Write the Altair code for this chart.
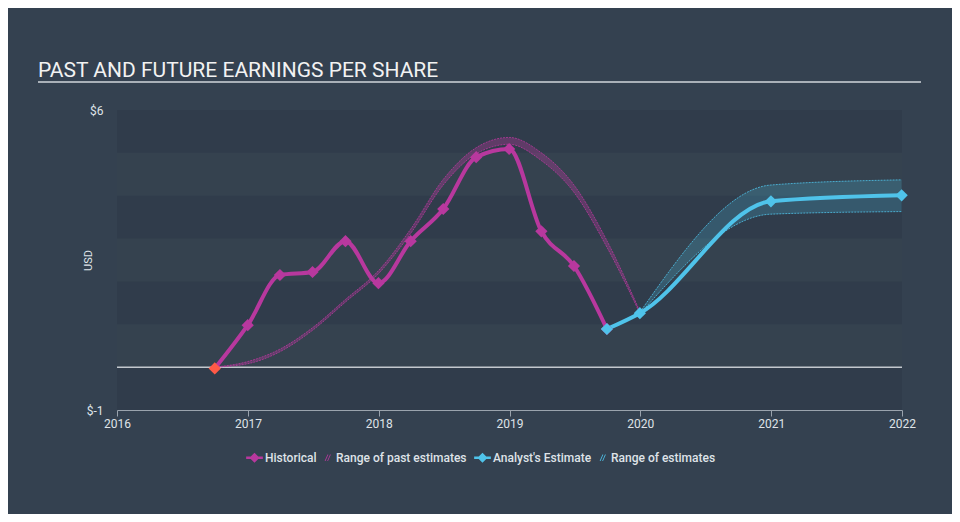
import altair as alt
import pandas as pd

# ---------------- data ----------------
hist_dates = ["2016-09-30", "2016-12-31", "2017-03-31", "2017-06-30", "2017-09-30",
              "2017-12-31", "2018-03-31", "2018-06-30", "2018-09-30", "2018-12-31",
              "2019-03-31", "2019-06-30", "2019-09-30"]
hist_eps = [-0.03, 0.98, 2.15, 2.22, 2.94, 1.96, 2.94, 3.69, 4.90, 5.09, 3.17, 2.36, 0.89]

past_dates = ["2016-09-30", "2016-12-31", "2017-03-31", "2017-06-30", "2017-09-30",
              "2017-12-31", "2018-03-31", "2018-06-30", "2018-09-30", "2018-12-31",
              "2019-03-31", "2019-06-30", "2019-09-30", "2019-12-31"]
past_low = [0.0, 0.08, 0.36, 0.86, 1.52, 2.18, 3.12, 4.25, 4.98, 5.20, 4.82, 4.08, 2.80, 1.26]
past_high = [0.0, 0.13, 0.42, 0.92, 1.58, 2.25, 3.22, 4.38, 5.12, 5.36, 5.00, 4.25, 2.95, 1.30]

est_dates = ["2019-09-30", "2019-12-31", "2020-12-31", "2021-12-31"]
est_eps = [0.89, 1.26, 3.87, 4.01]

range_dates = ["2019-12-31", "2020-12-31", "2021-12-31"]
range_low = [1.24, 3.57, 3.63]
range_high = [1.28, 4.25, 4.37]

band_low = [-1, 1, 3, 5]
band_high = [0, 2, 4, 6]

legend_past = ["Historical", "Range of past estimates"]
legend_future = ["Analyst's Estimate", "Range of estimates"]
title_text = ["PAST AND FUTURE EARNINGS PER SHARE"]

# ---------------- style ----------------
BG = "#344150"
BAND = "#303c4b"
MAG = "#b8389e"
BLUE = "#4fc3ea"
RED = "#ff5a47"
TXT = "#dfe3e8"

W, H = 785, 300

hist_df = pd.DataFrame({"date": hist_dates, "eps": hist_eps})
hist_df["first"] = [True] + [False] * (len(hist_dates) - 1)
past_df = pd.DataFrame({"date": past_dates, "low": past_low, "high": past_high})
est_df = pd.DataFrame({"date": est_dates, "eps": est_eps})
range_df = pd.DataFrame({"date": range_dates, "low": range_low, "high": range_high})
band_df = pd.DataFrame({"lo": band_low, "hi": band_high})

x_scale = alt.Scale(domain=[alt.DateTime(year=2016, month=1, date=1),
                            alt.DateTime(year=2022, month=1, date=1)])
y_scale = alt.Scale(domain=[-1, 6], nice=False, zero=False)

x_enc = alt.X("date:T", scale=x_scale, title=None,
              axis=alt.Axis(format="%Y", tickCount={"interval": "year", "step": 1},
                            labelColor=TXT, labelFontSize=12, labelFont="Roboto",
                            domainColor="#9aa3ad", tickColor="#9aa3ad", tickSize=6,
                            labelPadding=2, grid=False, labelFlush=False))

y_axis = alt.Axis(values=[-1, 6], labelExpr="'$' + datum.value", labelColor=TXT,
                  labelFontSize=12, labelFont="Roboto", domain=False, ticks=False,
                  grid=False, labelPadding=14, title="USD", titleColor=TXT,
                  titleFontSize=11, titleFont="Roboto", titleFontWeight="normal",
                  titleX=-24, titleY=150, titleAngle=-90, titleAlign="center")

bands = alt.Chart(band_df).mark_rect(color=BAND).encode(
    x=alt.value(0), x2=alt.value(W),
    y=alt.Y("lo:Q", scale=y_scale, axis=y_axis), y2="hi:Q")

zero = alt.Chart(pd.DataFrame({"v": [0]})).mark_rule(color="#c3c8ce", strokeWidth=1.5).encode(
    x=alt.value(0), x2=alt.value(W), y=alt.Y("v:Q", scale=y_scale))

past_area = alt.Chart(past_df).mark_area(interpolate="monotone", color=MAG, opacity=0.35).encode(
    x=x_enc, y=alt.Y("low:Q", scale=y_scale), y2="high:Q")
past_lo = alt.Chart(past_df).mark_line(interpolate="monotone", color=MAG, strokeWidth=1,
                                       strokeDash=[2, 1], opacity=0.8).encode(
    x="date:T", y=alt.Y("low:Q", scale=y_scale))
past_hi = alt.Chart(past_df).mark_line(interpolate="monotone", color=MAG, strokeWidth=1,
                                       strokeDash=[2, 1], opacity=0.8).encode(
    x="date:T", y=alt.Y("high:Q", scale=y_scale))

rng_area = alt.Chart(range_df).mark_area(interpolate="monotone", color=BLUE, opacity=0.22).encode(
    x="date:T", y=alt.Y("low:Q", scale=y_scale), y2="high:Q")
rng_lo = alt.Chart(range_df).mark_line(interpolate="monotone", color=BLUE, strokeWidth=1,
                                       strokeDash=[2, 1], opacity=0.8).encode(
    x="date:T", y=alt.Y("low:Q", scale=y_scale))
rng_hi = alt.Chart(range_df).mark_line(interpolate="monotone", color=BLUE, strokeWidth=1,
                                       strokeDash=[2, 1], opacity=0.8).encode(
    x="date:T", y=alt.Y("high:Q", scale=y_scale))

hist_line = alt.Chart(hist_df).mark_line(interpolate="monotone", color=MAG, strokeWidth=4).encode(
    x="date:T", y=alt.Y("eps:Q", scale=y_scale))
hist_pts = alt.Chart(hist_df).mark_point(shape="diamond", filled=True, size=150, opacity=1).encode(
    x="date:T", y=alt.Y("eps:Q", scale=y_scale),
    color=alt.condition("datum.first", alt.value(RED), alt.value(MAG)))

est_line = alt.Chart(est_df).mark_line(interpolate="monotone", color=BLUE, strokeWidth=4).encode(
    x="date:T", y=alt.Y("eps:Q", scale=y_scale))
est_pts = alt.Chart(est_df).mark_point(shape="diamond", filled=True, size=150, color=BLUE,
                                       opacity=1).encode(
    x="date:T", y=alt.Y("eps:Q", scale=y_scale))

diamond_bar = ("M-1,-0.14L-0.45,-0.14L0,-0.6L0.45,-0.14L1,-0.14L1,0.14L0.45,0.14"
               "L0,0.6L-0.45,0.14L-1,0.14Z")
hatch = ("M-0.1,0.4L0.24,-0.4L0.34,-0.4L0,0.4Z"
         "M0.2,0.4L0.54,-0.4L0.64,-0.4L0.3,0.4Z")


def make_legend(x):
    return alt.Legend(title=None, orient="none", legendX=x, legendY=339,
                      direction="horizontal", columns=2, labelColor=TXT, labelFontSize=12,
                      labelFont="Roboto", labelFontWeight=500, symbolSize=280,
                      symbolOpacity=1, symbolStrokeWidth=0, columnPadding=0, labelOffset=2)


def legend_layer(names, colors, x):
    lg = make_legend(x)
    return alt.Chart(pd.DataFrame({"series": names})).mark_point(filled=True, opacity=0).encode(
        x=alt.value(0), y=alt.value(0),
        color=alt.Color("series:N", scale=alt.Scale(domain=names, range=colors), legend=lg),
        shape=alt.Shape("series:N", scale=alt.Scale(domain=names, range=[diamond_bar, hatch]),
                        legend=lg))


leg_past = legend_layer(legend_past, [MAG, MAG], 129)
leg_future = legend_layer(legend_future, [BLUE, BLUE], 357)

underline = alt.Chart(pd.DataFrame({"k": [0]})).mark_rule(color="#a9b0b8", strokeWidth=2).encode(
    x=alt.value(-79), x2=alt.value(804), y=alt.value(-28))

title = alt.Chart(pd.DataFrame({"t": title_text})).mark_text(
    align="left", baseline="alphabetic", font="Roboto", fontSize=21, color="#f2f2f2").encode(
    x=alt.value(-79), y=alt.value(-33), text="t:N")

chart = alt.layer(
    bands, zero, past_area, past_lo, past_hi, rng_area, rng_lo, rng_hi,
    hist_line, est_line, hist_pts, est_pts, leg_past, leg_future, underline, title
).resolve_scale(
    color="independent", shape="independent"
).properties(
    width=W, height=H,
    padding={"left": 109, "top": 102, "right": 50, "bottom": 104},
    autosize=alt.AutoSizeParams(type="none"),
    background=BG,
).configure_view(stroke=None, fill="#35424f")

chart.save("out.html", embed_options={"renderer": "svg", "actions": False})
